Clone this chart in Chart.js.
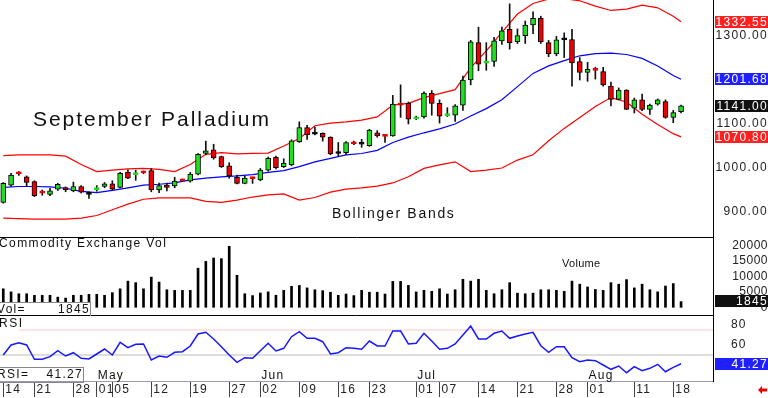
<!DOCTYPE html>
<html>
<head>
<meta charset="utf-8">
<script src="https://cdn.jsdelivr.net/npm/chart.js@4.4.0/dist/chart.umd.min.js"></script>
<style>
  html, body { margin: 0; padding: 0; background: #fff; }
  #wrap { position: relative; width: 768px; height: 398px; overflow: hidden; background: #fff; }
  #wrap canvas { position: absolute; left: 0; }
</style>
</head>
<body>
<div id="wrap">
  <canvas id="priceChart" width="768" height="238" style="top:0px"></canvas>
  <canvas id="volChart" width="768" height="78" style="top:238px"></canvas>
  <canvas id="rsiChart" width="768" height="82" style="top:316px"></canvas>
</div>
<script>
// Eixo de datas (indice da barra -> rotulo)
const dayIdx = [0, 4, 9, 12, 14, 19, 24, 29, 33, 38, 43, 47, 53, 56, 61, 66, 71, 75, 81, 86];
const dayLabels = ['14', '21', '28', '01', '05', '12', '19', '27', '02', '09', '16', '23', '01', '07', '14', '21', '28', '01', '11', '18'];
const monthIdx = [12, 33, 53, 75];
const monthLabels = ['May', 'Jun', 'Jul', 'Aug'];

// Candles
const open = [922, 961, 989, 980, 969, 946, 940, 952, 955, 948,
  958, 940, 951, 958, 964, 956, 990, 985, 991, 994,
  950, 961, 959, 973, 970, 986, 1033, 1041, 1026, 1005,
  979, 965, 978, 973, 995, 1024, 1003, 1007, 1060, 1092,
  1077, 1079, 1070, 1033, 1035, 1057, 1054, 1051, 1080, 1074,
  1073, 1145, 1147, 1112, 1116, 1170, 1147, 1119, 1120, 1143,
  1200, 1285, 1238, 1242, 1289, 1315, 1287, 1301, 1325, 1340,
  1285, 1259, 1291, 1292, 1242, 1217, 1224, 1219, 1186, 1156,
  1177, 1136, 1155, 1133, 1145, 1151, 1115, 1128];
const high = [967, 988, 992, 982, 971, 950, 954, 965, 957, 968,
  960, 946, 960, 967, 971, 990, 996, 995, 993, 999,
  966, 966, 979, 975, 990, 1033, 1061, 1054, 1027, 1012,
  984, 982, 979, 999, 1025, 1027, 1021, 1064, 1105, 1097,
  1093, 1080, 1071, 1058, 1060, 1061, 1065, 1088, 1085, 1076,
  1165, 1189, 1150, 1118, 1173, 1176, 1155, 1137, 1144, 1209,
  1290, 1320, 1285, 1297, 1320, 1373, 1316, 1334, 1355, 1345,
  1290, 1299, 1307, 1315, 1251, 1240, 1229, 1229, 1195, 1182,
  1178, 1159, 1168, 1145, 1157, 1155, 1131, 1143];
const low = [920, 958, 983, 958, 935, 938, 937, 949, 946, 946,
  943, 931, 947, 955, 950, 955, 976, 972, 987, 946,
  944, 948, 955, 970, 968, 984, 1030, 1020, 1001, 977,
  964, 964, 965, 971, 993, 998, 1001, 1005, 1058, 1065,
  1075, 1061, 1030, 1027, 1030, 1053, 1047, 1049, 1070, 1058,
  1072, 1115, 1100, 1110, 1113, 1120, 1102, 1117, 1106, 1131,
  1189, 1221, 1222, 1231, 1281, 1270, 1283, 1283, 1305, 1283,
  1253, 1255, 1251, 1186, 1200, 1197, 1202, 1186, 1141, 1155,
  1133, 1125, 1130, 1122, 1143, 1113, 1103, 1125];
const close = [965, 984, 987, 967, 937, 943, 948, 963, 951, 958,
  945, 940, 953, 964, 952, 988, 977, 987, 989, 950,
  960, 956, 970, 971, 986, 1031, 1039, 1023, 1003, 982,
  965, 977, 976, 995, 1022, 1001, 1011, 1062, 1092, 1075,
  1077, 1070, 1032, 1033, 1058, 1055, 1054, 1086, 1073, 1072,
  1145, 1143, 1111, 1114, 1170, 1147, 1118, 1121, 1141, 1200,
  1287, 1236, 1240, 1289, 1312, 1285, 1301, 1325, 1340, 1287,
  1259, 1291, 1291, 1239, 1217, 1224, 1222, 1189, 1156, 1177,
  1133, 1155, 1133, 1143, 1155, 1115, 1126, 1141];

// Bandas de Bollinger
const bandIdx = [0, 2, 4, 6, 8, 10, 12, 14, 16, 18, 20, 22, 24, 26, 28, 30, 32, 34, 36, 38,
  40, 42, 44, 46, 48, 50, 52, 54, 56, 58, 60, 62, 64, 66, 68, 70, 72, 74, 76, 78,
  80, 82, 84, 86, 87];
const upperBand = [1028, 1030, 1030, 1030, 1027, 1008, 992, 995, 998, 999,
  997, 992, 1008, 1031, 1035, 1032, 1033, 1034, 1050, 1067,
  1096, 1102, 1105, 1109, 1116, 1143, 1147, 1160, 1169, 1178,
  1228, 1266, 1308, 1350, 1374, 1384, 1385, 1380, 1368, 1358,
  1361, 1370, 1364, 1345, 1332.55];
const midBand = [956, 958, 958, 957, 954, 947, 944, 949, 955, 961,
  963, 966, 973, 977, 980, 982, 985, 990, 994, 1003,
  1014, 1022, 1030, 1033, 1040, 1058, 1070, 1080, 1089, 1100,
  1118, 1135, 1155, 1185, 1215, 1232, 1244, 1255, 1260, 1261,
  1258, 1249, 1232, 1210, 1201.68];
const lowerBand = [886, 885, 884, 884, 884, 886, 892, 905, 918, 929,
  932, 932, 932, 924, 922, 927, 934, 939, 941, 927,
  933, 945, 952, 955, 959, 966, 980, 999, 1007, 1014,
  992, 995, 1000, 1018, 1030, 1062, 1090, 1115, 1140, 1160,
  1150, 1122, 1099, 1078, 1070.8];

// Volume
const volume = [6000, 5000, 4400, 4400, 3900, 3900, 3900, 3300, 3000, 3900,
  3900, 4200, 4200, 3900, 4750, 6000, 8500, 8000, 6000, 9800,
  8200, 5700, 5500, 5500, 5500, 12700, 14900, 16000, 15800, 19800,
  10400, 4400, 3800, 4650, 5000, 3900, 5500, 6800, 7100, 6300,
  5700, 5400, 4900, 3900, 4300, 3800, 5500, 4900, 4900, 4300,
  8400, 8400, 7100, 5000, 5500, 5200, 6000, 4300, 5700, 9100,
  8500, 9100, 5500, 4400, 5700, 8000, 4600, 4400, 4600, 5700,
  5700, 5500, 5200, 8500, 7500, 6600, 5800, 5500, 8000, 7500,
  9000, 6300, 7500, 5700, 5000, 6900, 7700, 1845];

// RSI
const rsi = [50, 60, 62.3, 60, 45.7, 45.7, 48.3, 54.3, 49, 52.3,
  46.7, 46, 51, 56, 50, 62.7, 57.3, 60.7, 61, 45,
  49, 47.7, 52.7, 53.3, 59, 71, 72.7, 66, 58.3, 50,
  42.7, 47.3, 46.7, 54.3, 61.7, 54, 56.7, 68.3, 73.3, 66.7,
  66.7, 63.3, 51, 52.3, 57.3, 56.7, 55.7, 64, 59, 59,
  74, 74, 61, 61.7, 71.7, 64, 55.7, 56.7, 61, 70,
  79, 66, 66, 71.7, 74, 66.7, 69, 71, 72.7, 59.3,
  52.7, 58.3, 58.3, 47.3, 43.3, 45, 44.3, 40, 35.7, 39,
  32.3, 38.3, 34.3, 36.7, 40.7, 33.3, 37.7, 41.27];
const rsiLevels = [75, 50];

const priceTicks = [900, 1000, 1100, 1200, 1300];
const volTicks = [0, 5000, 10000, 15000, 20000];
const rsiTicks = [60, 80];

// Limites dos eixos
const X_MIN = -0.42, X_MAX = 91.1;
const PRICE_MIN = 840.9, PRICE_MAX = 1381.8;
const VOL_MIN = -2825, VOL_MAX = 22500;
const RSI_MIN = 24, RSI_MAX = 89;

const GREEN = '#1ee01e';
const RED = '#ee0000';
const FONT = 'Liberation Sans';
Chart.defaults.font.family = FONT;

function txt(ctx, s, x, y, size, color, align, spacing) {
  ctx.save();
  ctx.font = size + 'px "' + FONT + '"';
  ctx.fillStyle = color;
  ctx.textAlign = align || 'left';
  ctx.textBaseline = 'middle';
  ctx.letterSpacing = (spacing || 0) + 'px';
  ctx.fillText(s, x, y);
  ctx.restore();
}

function valueBox(ctx, y, label, bg) {
  ctx.save();
  ctx.fillStyle = bg;
  ctx.fillRect(715, Math.round(y) - 6, 53, 12);
  ctx.restore();
  txt(ctx, label, 768, Math.round(y) + 0.5, 12, '#fff', 'right', 1.3);
}

function hline(ctx, x1, x2, y, color) {
  ctx.save();
  ctx.strokeStyle = color;
  ctx.lineWidth = 1;
  ctx.beginPath();
  ctx.moveTo(x1, y);
  ctx.lineTo(x2, y);
  ctx.stroke();
  ctx.restore();
}

function spacing(px) {
  return {
    beforeLayout(chart) { chart.ctx.letterSpacing = px + 'px'; },
    beforeDraw(chart) { chart.ctx.letterSpacing = px + 'px'; }
  };
}

function xHidden() {
  return { type: 'linear', display: false, min: X_MIN, max: X_MAX, offset: false, grid: { offset: false } };
}

function rightAxis(min, max, tickVals, cross, pad, fmt) {
  return {
    position: 'right',
    min: min,
    max: max,
    afterBuildTicks(a) { a.ticks = tickVals.map(v => ({ value: v })); },
    afterFit(a) { a.width = 55; a.paddingTop = 0; a.paddingBottom = 0; },
    grid: { display: false, drawTicks: false },
    border: { display: true, color: '#000', width: 1 },
    ticks: { autoSkip: false, crossAlign: cross, padding: pad, color: '#222', font: { size: 12 }, callback: fmt }
  };
}

const baseOpts = {
  responsive: false,
  animation: false,
  devicePixelRatio: 1,
  events: [],
  layout: { padding: 0 },
  plugins: { legend: { display: false }, tooltip: { enabled: false } }
};

// Grafico de precos
const bodyFill = open.map((o, i) => close[i] > o ? GREEN : (close[i] < o ? RED : '#000'));
const bodyEdge = open.map((o, i) => Math.abs(close[i] - o) <= 3 ? bodyFill[i] : '#000');

const priceDecor = {
  afterDraw(chart) {
    const ctx = chart.ctx;
    const ca = chart.chartArea;
    const ys = chart.scales.y;
    hline(ctx, 0, ca.right, ca.bottom - 0.5, '#000');
    txt(ctx, 'September Palladium', 33, 120, 21, '#111', 'left', 1.95);
    txt(ctx, 'Bollinger Bands', 332, 214, 14, '#111', 'left', 1.7);
    const k = bandIdx.length - 1;
    const n = close.length - 1;
    valueBox(ctx, ys.getPixelForValue(upperBand[k]), upperBand[k].toFixed(2), '#ff2020');
    valueBox(ctx, ys.getPixelForValue(midBand[k]), midBand[k].toFixed(2), '#2020ff');
    valueBox(ctx, ys.getPixelForValue(close[n]), close[n].toFixed(2), '#111');
    valueBox(ctx, ys.getPixelForValue(lowerBand[k]), lowerBand[k].toFixed(2), '#ff2020');
  }
};

new Chart(document.getElementById('priceChart'), {
  type: 'bar',
  data: {
    datasets: [
      {
        type: 'line', order: 3,
        data: bandIdx.map((x, k) => ({ x: x, y: upperBand[k] })),
        borderColor: '#ff0000', borderWidth: 1.2, pointRadius: 0
      },
      {
        type: 'line', order: 3,
        data: bandIdx.map((x, k) => ({ x: x, y: midBand[k] })),
        borderColor: '#0000ff', borderWidth: 1.2, pointRadius: 0
      },
      {
        type: 'line', order: 3,
        data: bandIdx.map((x, k) => ({ x: x, y: lowerBand[k] })),
        borderColor: '#ff0000', borderWidth: 1.2, pointRadius: 0
      },
      {
        order: 2,
        data: open.map((_, i) => ({ x: i, y: [low[i], high[i]] })),
        backgroundColor: '#111', barThickness: 1, grouped: false
      },
      {
        order: 1,
        data: open.map((o, i) => ({ x: i, y: [o, close[i]] })),
        backgroundColor: bodyFill, borderColor: bodyEdge, borderWidth: 1,
        borderSkipped: false, barThickness: 5, minBarLength: 2, grouped: false
      }
    ]
  },
  options: Object.assign({}, baseOpts, {
    scales: {
      x: xHidden(),
      y: rightAxis(PRICE_MIN, PRICE_MAX, priceTicks, 'far', 3, v => v.toFixed(2))
    }
  }),
  plugins: [spacing(1.3), priceDecor]
});

// Grafico de volume
const volDecor = {
  afterDraw(chart) {
    const ctx = chart.ctx;
    const ca = chart.chartArea;
    const ys = chart.scales.y;
    hline(ctx, 0, ca.right, ca.bottom - 0.5, '#000');
    txt(ctx, 'Commodity Exchange Vol', -1, 6, 12, '#111', 'left', 1.4);
    txt(ctx, 'Volume', 562, 26, 11, '#111', 'left', 0.3);
    // caixa Vol=
    ctx.save();
    ctx.fillStyle = '#fff';
    ctx.fillRect(0, 65, 90, 12);
    ctx.strokeStyle = '#888';
    ctx.strokeRect(-1, 64.5, 91.5, 14);
    ctx.restore();
    const n = volume.length - 1;
    txt(ctx, 'Vol=', -3, 71.5, 12, '#111', 'left', 1.3);
    txt(ctx, String(volume[n]), 90, 71.5, 12, '#111', 'right', 1.3);
    valueBox(ctx, ys.getPixelForValue(volume[n]) - 1, String(volume[n]), '#111');
  }
};

new Chart(document.getElementById('volChart'), {
  type: 'bar',
  data: {
    datasets: [{
      data: volume.map((v, i) => ({ x: i, y: v })),
      backgroundColor: '#000', barThickness: 2, grouped: false
    }]
  },
  options: Object.assign({}, baseOpts, {
    scales: {
      x: xHidden(),
      y: rightAxis(VOL_MIN, VOL_MAX, volTicks, 'far', 3, v => String(v))
    }
  }),
  plugins: [spacing(0.5), volDecor]
});

// Grafico de RSI + eixo de datas
const rsiDecor = {
  afterDraw(chart) {
    const ctx = chart.ctx;
    const xs = chart.scales.x;
    const ys = chart.scales.y;
    ctx.save();
    ctx.fillStyle = '#fff';
    ctx.fillRect(0, 2, 19, 13);
    ctx.restore();
    txt(ctx, 'RSI', -1, 8, 12, '#111', 'left', 1.5);
    monthIdx.forEach((m, k) => {
      txt(ctx, monthLabels[k], xs.getPixelForValue(m) + 1, 60, 12, '#111', 'left', 1.2);
    });
    // caixa RSI=
    ctx.save();
    ctx.fillStyle = '#fff';
    ctx.fillRect(0, 51, 83, 14);
    ctx.strokeStyle = '#888';
    ctx.strokeRect(-1, 51.5, 84.5, 15);
    ctx.restore();
    const n = rsi.length - 1;
    txt(ctx, 'RSI=', -3, 58.5, 12, '#111', 'left', 1.3);
    txt(ctx, rsi[n].toFixed(2), 83, 58.5, 12, '#111', 'right', 1.3);
    valueBox(ctx, ys.getPixelForValue(rsi[n]), rsi[n].toFixed(2), '#2020ff');
    // seta vermelha
    ctx.save();
    ctx.fillStyle = '#ee0000';
    ctx.beginPath();
    ctx.moveTo(758, 74);
    ctx.lineTo(762, 70);
    ctx.lineTo(762, 72.5);
    ctx.lineTo(767, 72.5);
    ctx.lineTo(767, 75.5);
    ctx.lineTo(762, 75.5);
    ctx.lineTo(762, 78);
    ctx.closePath();
    ctx.fill();
    ctx.restore();
  }
};

new Chart(document.getElementById('rsiChart'), {
  type: 'line',
  data: {
    datasets: [
      {
        data: [{ x: X_MIN, y: rsiLevels[0] }, { x: X_MAX, y: rsiLevels[0] }],
        borderColor: '#ffc8c8', borderWidth: 1, pointRadius: 0, order: 3
      },
      {
        data: [{ x: X_MIN, y: rsiLevels[1] }, { x: X_MAX, y: rsiLevels[1] }],
        borderColor: '#bbbbbb', borderWidth: 1, pointRadius: 0, order: 3
      },
      {
        data: rsi.map((v, i) => ({ x: i, y: v })),
        borderColor: '#1818ff', borderWidth: 1.5, pointRadius: 0, order: 1
      }
    ]
  },
  options: Object.assign({}, baseOpts, {
    scales: {
      x: {
        type: 'linear', min: X_MIN, max: X_MAX, offset: false,
        afterBuildTicks(a) { a.ticks = dayIdx.map(v => ({ value: v })); },
        afterFit(a) { a.height = 17; a.paddingLeft = 0; a.paddingRight = 0; },
        grid: { drawOnChartArea: false, drawTicks: true, tickLength: 16, color: '#444', offset: false },
        border: { display: true, color: '#9a9ab8', width: 1 },
        ticks: {
          autoSkip: false, maxRotation: 0, align: 'start', padding: -15, labelOffset: 2,
          color: '#222', font: { size: 12 }, callback: (v, i) => dayLabels[i]
        }
      },
      y: rightAxis(RSI_MIN, RSI_MAX, rsiTicks, 'near', 18, v => String(v))
    }
  }),
  plugins: [spacing(1.2), rsiDecor]
});
</script>
</body>
</html>
